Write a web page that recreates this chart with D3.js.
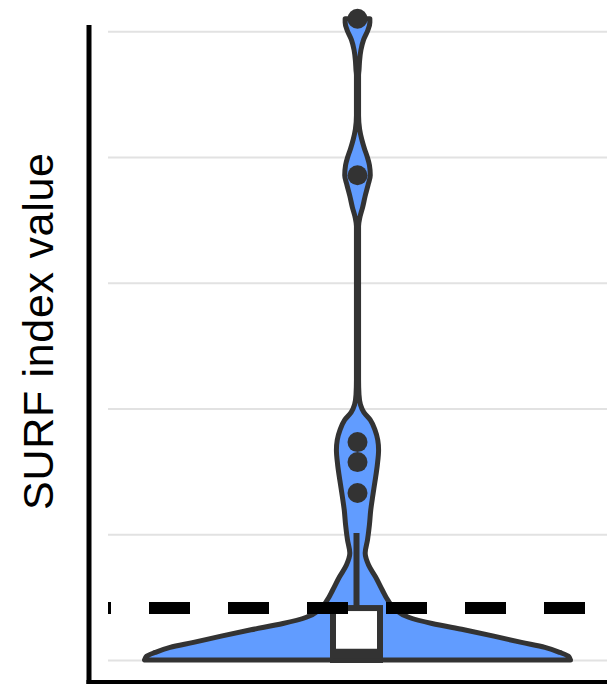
<!DOCTYPE html>
<html lang='en'>
  <head>
    <style type='text/css'>
      body {margin: 0; background-color: #fff;}
      #visualization {width: 607px; height: 685px;}
    </style>
  </head>
  <body>

    <div id='visualization'>
      <svg width='607' height='685'></svg>
    </div>

    <script src='https://d3js.org/d3.v7.min.js'></script>
    <script type='text/javascript'>
        // one category, no tick labels shown
        var categories = ["SURF"];

        // gridline positions (values)
        var gridValues = [0, 1, 2, 3, 4, 5];

        // violin outline: value along y, relative density (half width)
        var violinValues  = [0, 0.03, 0.06, 0.10, 0.14, 0.19, 0.24, 0.29, 0.34, 0.40, 0.48, 0.555, 0.66, 0.755, 0.85,
                             0.955, 1.075, 1.19, 1.31, 1.43, 1.55, 1.67, 1.75, 1.83, 1.91, 1.97, 2.03, 2.11, 2.23,
                             2.86, 3.45, 3.52, 3.60, 3.69, 3.78, 3.855, 3.935, 4.0, 4.07, 4.14, 4.22, 4.33,
                             4.65, 4.69, 4.77, 4.85, 4.93, 5.01, 5.07, 5.10];
        var violinDensity = [1.0, 0.99, 0.95, 0.88, 0.77, 0.64, 0.50, 0.35, 0.24, 0.178, 0.141, 0.117, 0.085, 0.052, 0.036,
                             0.047, 0.056, 0.062, 0.072, 0.083, 0.093, 0.099, 0.095, 0.082, 0.060, 0.030, 0.014, 0.007, 0.005,
                             0.005, 0.005, 0.011, 0.024, 0.036, 0.050, 0.060, 0.056, 0.046, 0.032, 0.020, 0.010, 0.005,
                             0.005, 0.007, 0.010, 0.016, 0.028, 0.049, 0.058, 0.058];

        // box: q1, median, q3 and whisker ends
        var boxQuartiles = [0, 0.05, 0.413];
        var whiskerRange = [0, 1.01];

        // outlier points
        var outlierValues = [5.10, 3.855, 1.733, 1.574, 1.328];

        // dashed reference line
        var thresholdValue = [0.413];

        // Select the DOM element
        var svg = d3.select("#visualization").select("svg");

        var margin = {top: 25, right: 0, bottom: 3, left: 108};
        var width  = 607 - margin.left - margin.right;
        var height = 685 - margin.top - margin.bottom;

        var g = svg.append("g")
            .attr("transform", "translate(" + margin.left + "," + margin.top + ")");

        // scales
        var x = d3.scaleBand().domain(categories).range([0, width]);
        var y = d3.scaleLinear().domain([-0.175, 5.05]).range([height, 0]);
        var w = d3.scaleLinear().domain([0, 1]).range([0, 213]);

        var cx = x(categories[0]) + x.bandwidth() / 2;

        // gridlines
        g.append("g")
            .attr("class", "grid")
            .call(d3.axisLeft(y).tickValues(gridValues).tickSize(-width).tickFormat(""))
            .call(function(a) { a.select(".domain").remove(); })
            .selectAll("line")
              .attr("stroke", "#e2e2e2")
              .attr("stroke-width", 2);

        // violin
        var violin = violinValues.map(function(v, i) { return {v: v, d: violinDensity[i]}; });

        var area = d3.area()
            .y(function(d) { return y(d.v); })
            .x0(function(d) { return cx - w(d.d); })
            .x1(function(d) { return cx + w(d.d); })
            .curve(d3.curveMonotoneY);

        g.append("path")
            .datum(violin)
            .attr("d", area)
            .attr("fill", "#619cff")
            .attr("stroke", "#333")
            .attr("stroke-width", 5)
            .attr("stroke-linejoin", "round");

        // whisker
        var boxW = 47;
        g.append("line")
            .attr("x1", cx - 1).attr("x2", cx - 1)
            .attr("y1", y(boxQuartiles[2]))
            .attr("y2", y(whiskerRange[1]))
            .attr("stroke", "#333")
            .attr("stroke-width", 6);

        // box
        g.append("rect")
            .attr("x", cx - 1 - boxW / 2)
            .attr("y", y(boxQuartiles[2]))
            .attr("width", boxW)
            .attr("height", y(boxQuartiles[0]) - y(boxQuartiles[2]))
            .attr("fill", "#fff")
            .attr("stroke", "#333")
            .attr("stroke-width", 6);

        // median
        g.append("line")
            .attr("x1", cx - 1 - boxW / 2).attr("x2", cx - 1 + boxW / 2)
            .attr("y1", y(boxQuartiles[1])).attr("y2", y(boxQuartiles[1]))
            .attr("stroke", "#333")
            .attr("stroke-width", 10);

        // dashed threshold line
        g.selectAll(".threshold").data(thresholdValue)
          .enter().append("line")
            .attr("class", "threshold")
            .attr("x1", 0).attr("x2", width)
            .attr("y1", y).attr("y2", y)
            .attr("stroke", "#000")
            .attr("stroke-width", 12)
            .attr("stroke-dasharray", "41,38")
            .attr("stroke-dashoffset", 38);

        // outliers
        g.selectAll(".pt").data(outlierValues)
          .enter().append("circle")
            .attr("class", "pt")
            .attr("cx", cx)
            .attr("cy", y)
            .attr("r", 10)
            .attr("fill", "#333");

        // axis lines
        svg.append("line")
            .attr("x1", 89).attr("x2", 89)
            .attr("y1", margin.top).attr("y2", margin.top + height + 2)
            .attr("stroke", "#000")
            .attr("stroke-width", 5);

        svg.append("line")
            .attr("x1", 86.5).attr("x2", 607)
            .attr("y1", margin.top + height).attr("y2", margin.top + height)
            .attr("stroke", "#000")
            .attr("stroke-width", 4);

        // y title
        svg.append("text")
            .attr("transform", "translate(53," + 331.5 + ") rotate(-90)")
            .attr("text-anchor", "middle")
            .attr("font-family", "Liberation Sans, Arial, sans-serif")
            .attr("font-size", 43)
            .attr("textLength", 357)
            .attr("lengthAdjust", "spacing")
            .attr("fill", "#000")
            .text("SURF index value");
    </script>
  </body>
</html>
